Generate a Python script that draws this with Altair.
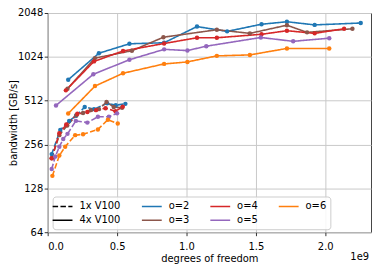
import altair as alt
import pandas as pd

# ---- data: degrees of freedom (units of 1e9) and bandwidth [GB/s] ----
# 4x V100 (solid)
dof_4x_o2 = [0.148, 0.369, 0.589, 0.839, 1.076, 1.293, 1.541, 1.724, 1.924, 2.256]
bw_4x_o2 = [713, 1084, 1259, 1280, 1653, 1532, 1715, 1784, 1697, 1749]
dof_4x_o3 = [0.143, 0.341, 0.607, 0.834, 1.219, 1.457, 1.724, 1.869, 2.196]
bw_4x_o3 = [619, 1004, 1128, 1397, 1572, 1485, 1689, 1508, 1596]
dof_4x_o4 = [0.131, 0.334, 0.543, 0.839, 1.076, 1.219, 1.541, 1.724, 1.924, 2.136]
bw_4x_o4 = [603, 953, 1123, 1265, 1385, 1385, 1463, 1548, 1485, 1596]
dof_4x_o5 = [0.060, 0.329, 0.589, 0.839, 1.007, 1.143, 1.536, 1.769, 2.029]
bw_4x_o5 = [475, 778, 978, 1153, 1131, 1212, 1391, 1309, 1376]
dof_4x_o6 = [0.148, 0.341, 0.543, 0.839, 1.007, 1.219, 1.457, 1.724, 2.029]
bw_4x_o6 = [418, 645, 790, 916, 945, 1040, 1056, 1170, 1170]

# 1x V100 (dashed)
dof_1x_o2 = [0.029, 0.091, 0.155, 0.205, 0.267, 0.334, 0.429, 0.491, 0.560]
bw_1x_o2 = [220, 322, 372, 403, 463, 448, 491, 477, 487]
dof_1x_o3 = [0.029, 0.084, 0.141, 0.207, 0.255, 0.310, 0.369, 0.424, 0.476, 0.536]
bw_1x_o3 = [206, 297, 346, 407, 422, 441, 448, 501, 463, 458]
dof_1x_o4 = [0.029, 0.084, 0.134, 0.214, 0.286, 0.348, 0.417, 0.489, 0.541]
bw_1x_o4 = [206, 306, 351, 416, 428, 441, 455, 433, 466]
dof_1x_o5 = [0.029, 0.055, 0.084, 0.112, 0.143, 0.203, 0.286, 0.362, 0.441, 0.500]
bw_1x_o5 = [174, 212, 247, 279, 303, 372, 362, 397, 397, 419]
dof_1x_o6 = [0.034, 0.084, 0.126, 0.198, 0.255, 0.362, 0.434, 0.505]
bw_1x_o6 = [156, 215, 247, 297, 301, 325, 379, 357]

orders = ["o=2", "o=3", "o=4", "o=5", "o=6"]
order_colors = ["#1f77b4", "#8c564b", "#d62728", "#9467bd", "#ff7f0e"]
gpus = ["1x V100", "4x V100"]
gpu_dashes = [[5.5, 2.4], [1, 0]]

x_ticks = [0.0, 0.5, 1.0, 1.5, 2.0]
y_ticks = [64, 128, 256, 512, 1024, 2048]

# legend entries (filled column by column, 2 rows x 4 columns)
legend_keys = ["1x V100", "4x V100", "o=2", "o=3", "o=4", "o=5", "o=6"]
legend_colors = ["black", "black", "#1f77b4", "#8c564b", "#d62728", "#9467bd", "#ff7f0e"]
legend_dashes = [[5.5, 2.4], [1, 0], [1, 0], [1, 0], [1, 0], [1, 0], [1, 0]]

series = [
    ("4x V100", "o=2", dof_4x_o2, bw_4x_o2),
    ("4x V100", "o=3", dof_4x_o3, bw_4x_o3),
    ("4x V100", "o=4", dof_4x_o4, bw_4x_o4),
    ("4x V100", "o=5", dof_4x_o5, bw_4x_o5),
    ("4x V100", "o=6", dof_4x_o6, bw_4x_o6),
    ("1x V100", "o=2", dof_1x_o2, bw_1x_o2),
    ("1x V100", "o=3", dof_1x_o3, bw_1x_o3),
    ("1x V100", "o=4", dof_1x_o4, bw_1x_o4),
    ("1x V100", "o=5", dof_1x_o5, bw_1x_o5),
    ("1x V100", "o=6", dof_1x_o6, bw_1x_o6),
]
rows = []
for gpu, o, xs, ys in series:
    for xv, yv in zip(xs, ys):
        rows.append({"gpu": gpu, "o": o, "series": gpu + " " + o, "dof": xv, "bw": yv})
df = pd.DataFrame(rows)

FONT = "DejaVu Sans"

x_enc = alt.X("dof:Q", scale=alt.Scale(domain=[0, 2.33], nice=False, zero=False, padding=0),
              axis=alt.Axis(values=x_ticks, format=".1f", title="degrees of freedom",
                            titlePadding=3, labelPadding=5.5))
y_enc = alt.Y("bw:Q", scale=alt.Scale(type="log", base=2, domain=[64, 2048], nice=False, padding=0),
              axis=alt.Axis(values=y_ticks, format="d", title="bandwidth [GB/s]",
                            labelPadding=1.5, titleX=-34, titleBaseline="middle"))

lines = alt.Chart(df).mark_line(
    strokeWidth=1.6,
    point=alt.OverlayMarkDef(filled=True, size=20, opacity=1),
).encode(
    x=x_enc,
    y=y_enc,
    color=alt.Color("o:N", scale=alt.Scale(domain=orders, range=order_colors), legend=None),
    strokeDash=alt.StrokeDash("gpu:N", scale=alt.Scale(domain=gpus, range=gpu_dashes), legend=None),
    detail="series:N",
)

leg_props = dict(
    title=None, orient="none", legendX=5, legendY=185, columns=4,
    symbolType="M-2,0H2", symbolSize=100, symbolStrokeWidth=1.5,
    labelOffset=11, columnPadding=18, rowPadding=3, padding=4,
    fillColor="rgba(255,255,255,0.85)", strokeColor="#cccccc", cornerRadius=3,
    labelFont=FONT, labelFontSize=10, labelColor="black",
)
legend_layer = alt.Chart(pd.DataFrame({"key": legend_keys})).mark_line(strokeWidth=1.5).encode(
    x=alt.value(0), y=alt.value(0),
    color=alt.Color("key:N", scale=alt.Scale(domain=legend_keys, range=legend_colors),
                    legend=alt.Legend(**leg_props)),
    strokeDash=alt.StrokeDash("key:N", scale=alt.Scale(domain=legend_keys, range=legend_dashes),
                              legend=alt.Legend(**leg_props)),
)

offset_text = alt.Chart(pd.DataFrame({"t": ["1e9"]})).mark_text(
    align="right", baseline="middle", font=FONT, fontSize=10, color="black"
).encode(x=alt.value(324), y=alt.value(246), text="t:N")

chart = alt.layer(lines, legend_layer, offset_text).resolve_scale(
    color="independent", strokeDash="independent"
).properties(
    width=326, height=221,
    padding={"left": 40, "top": 4, "right": 2, "bottom": 32},
    autosize=alt.AutoSizeParams(type="none"),
).configure_view(
    stroke="#444444", strokeWidth=1
).configure_axis(
    domain=False, grid=True, gridColor="#c8c8c8", gridWidth=1,
    tickColor="#333333", tickSize=3.5, tickWidth=1,
    labelFont=FONT, labelFontSize=10, labelColor="black",
    titleFont=FONT, titleFontSize=10, titleFontWeight="normal", titleColor="black",
)

chart.save("out.html", embed_options={"renderer": "svg", "actions": False})
